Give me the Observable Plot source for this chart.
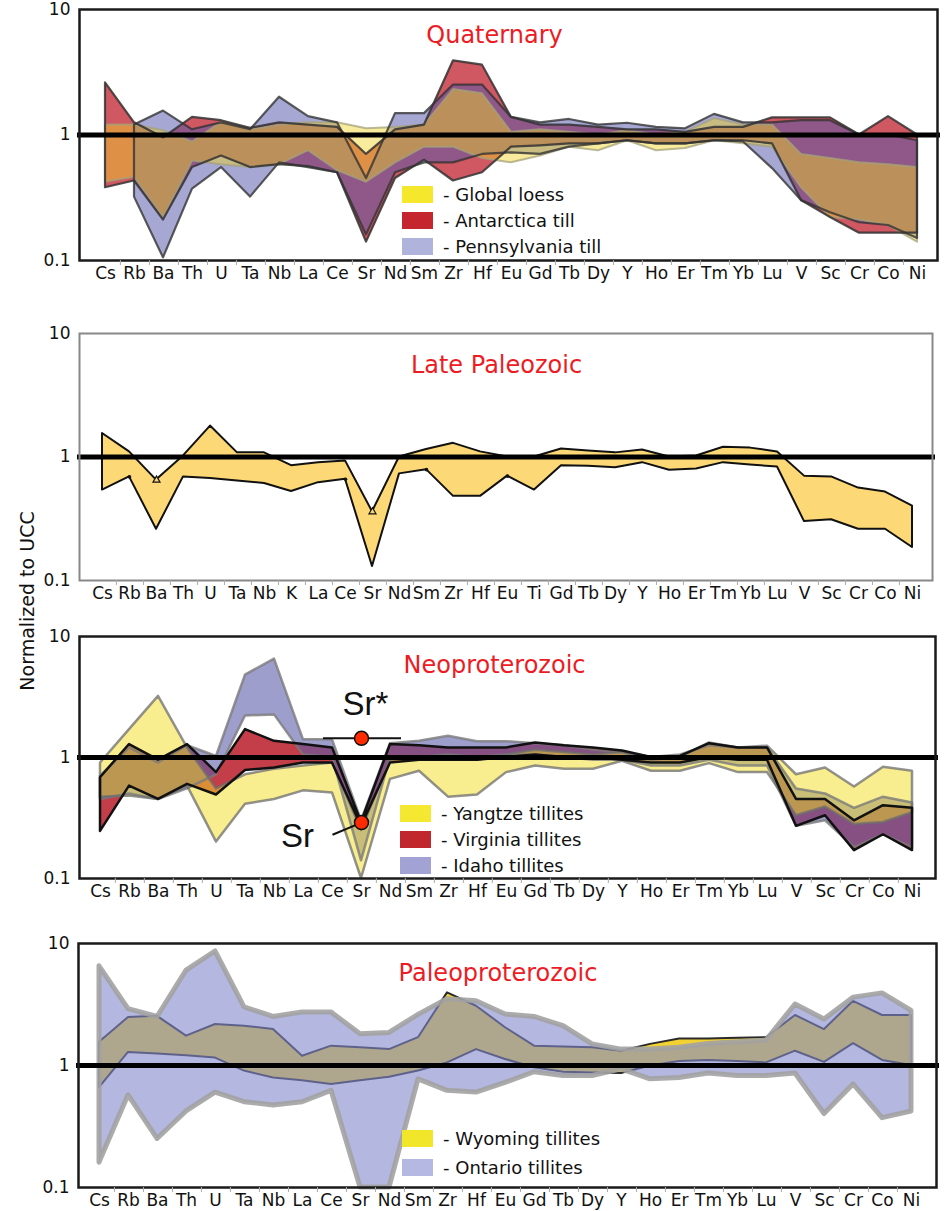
<!DOCTYPE html>
<html>
<head>
<meta charset="utf-8">
<script src="https://cdn.jsdelivr.net/npm/d3@7"></script>
<script src="https://cdn.jsdelivr.net/npm/@observablehq/plot@0.6"></script>
<style>
  body { margin: 0; background: #fff; }
  #page { position: relative; width: 946px; height: 1211px; overflow: hidden; font-family: "DejaVu Sans", sans-serif; color: #111; }
  #page svg { position: absolute; left: 0; }
  .legend { position: absolute; }
  .legend .row { position: absolute; left: 0; display: flex; align-items: center; height: 17px; }
  .legend .sw { width: 31px; height: 17px; flex: none; }
  .legend .tx { margin-left: 10px; font-size: 18px; white-space: nowrap; line-height: 17px; }
  .ylabel { position: absolute; left: 27px; top: 601px; transform: translate(-50%, -50%) rotate(-90deg); font-size: 19px; white-space: nowrap; }
</style>
</head>
<body>
<div id="page"><div class="ylabel">Normalized to UCC</div></div>
<script>
// Element order on the spider diagrams
const elements = ["Cs","Rb","Ba","Th","U","Ta","Nb","La","Ce","Sr","Nd","Sm","Zr","Hf","Eu","Gd","Tb","Dy","Y","Ho","Er","Tm","Yb","Lu","V","Sc","Cr","Co","Ni"];
const elementsLatePaleozoic = ["Cs","Rb","Ba","Th","U","Ta","Nb","K","La","Ce","Sr","Nd","Sm","Zr","Hf","Eu","Ti","Gd","Tb","Dy","Y","Ho","Er","Tm","Yb","Lu","V","Sc","Cr","Co","Ni"];

const yTicks = [0.1, 1, 10];

// Quaternary ranges (normalized to UCC)
const loessMax = [1.2, 1.2, 1.08, 0.88, 1.26, 1.1, 1.2, 1.25, 1.25, 1.12, 1.15, 1.2, 2.3, 2.13, 1.05, 1.1, 1.05, 1.0, 1.08, 1.0, 1.05, 1.35, 1.2, 1.2, 0.7, 0.65, 0.6, 0.58, 0.55];
const loessMin = [0.42, 0.46, 0.22, 0.62, 0.58, 0.55, 0.58, 0.75, 0.52, 0.42, 0.6, 0.8, 0.8, 0.65, 0.6, 0.68, 0.8, 0.75, 0.9, 0.75, 0.78, 0.9, 0.85, 0.8, 0.38, 0.22, 0.21, 0.19, 0.14];
const antarcticaMax = [2.6, 1.25, 0.95, 1.38, 1.3, 1.13, 1.25, 1.2, 1.15, 0.7, 1.1, 1.2, 3.9, 3.6, 1.38, 1.2, 1.2, 1.15, 1.1, 1.1, 1.05, 1.15, 1.15, 1.37, 1.37, 1.37, 1.0, 1.4, 1.0];
const antarcticaMin = [0.38, 0.43, 0.21, 0.55, 0.68, 0.55, 0.58, 0.56, 0.5, 0.14, 0.45, 0.63, 0.43, 0.5, 0.8, 0.82, 0.85, 0.85, 0.9, 0.85, 0.85, 0.9, 0.9, 0.85, 0.3, 0.22, 0.165, 0.165, 0.165];
const pennsylvaniaMax = [null, 1.2, 1.55, 1.1, 1.25, 1.1, 2.0, 1.4, 1.25, 0.45, 1.48, 1.48, 2.5, 2.5, 1.38, 1.25, 1.33, 1.2, 1.24, 1.15, 1.12, 1.46, 1.25, 1.25, 1.3, 1.3, 1.0, 1.0, 0.9];
const pennsylvaniaMin = [null, 0.32, 0.105, 0.37, 0.55, 0.32, 0.6, 0.55, 0.5, 0.16, 0.5, 0.6, 0.6, 0.7, 0.72, 0.7, 0.8, 0.85, 0.9, 0.85, 0.85, 0.9, 0.88, 0.54, 0.3, 0.24, 0.2, 0.19, 0.15];

// Late Paleozoic range
const latePaleozoicMax = [1.55, 1.1, 0.65, 1.02, 1.78, 1.08, 1.08, 0.85, 0.9, 0.93, 0.36, 1.0, 1.15, 1.29, 1.1, 1.0, 1.0, 1.16, 1.12, 1.08, 1.14, 1.0, 1.02, 1.2, 1.18, 1.1, 0.7, 0.69, 0.56, 0.52, 0.4];
const latePaleozoicMin = [0.54, 0.69, 0.26, 0.69, 0.67, 0.64, 0.61, 0.525, 0.62, 0.66, 0.13, 0.73, 0.79, 0.48, 0.48, 0.7, 0.54, 0.85, 0.84, 0.82, 0.9, 0.78, 0.8, 0.9, 0.86, 0.83, 0.3, 0.31, 0.26, 0.26, 0.185];
const latePaleozoicTriangles = ["Ba", "Sr"];          // markers on the upper edge
const latePaleozoicDots = ["Rb", "Ce", "Sm", "Eu"];   // markers on the lower edge

// Neoproterozoic ranges
const yangtzeMax = [0.9, 1.7, 3.2, 1.2, 0.55, 0.72, 0.8, 0.85, 0.9, 0.25, 0.95, 1.0, 0.95, 0.95, 1.05, 1.15, 1.1, 1.05, 1.1, 0.95, 1.0, 1.32, 1.2, 1.24, 0.72, 0.82, 0.57, 0.83, 0.77];
const yangtzeMin = [0.47, 0.48, 0.45, 0.58, 0.2, 0.41, 0.45, 0.53, 0.51, 0.1, 0.66, 0.77, 0.47, 0.49, 0.75, 0.85, 0.8, 0.8, 0.93, 0.77, 0.77, 0.89, 0.75, 0.75, 0.33, 0.39, 0.28, 0.29, 0.35];
const virginiaMax = [0.68, 1.28, 0.95, 1.28, 0.75, 1.7, 1.36, 1.28, 1.2, 0.29, 1.28, 1.25, 1.2, 1.2, 1.2, 1.32, 1.25, 1.2, 1.13, 1.0, 1.02, 1.3, 1.2, 1.2, 0.45, 0.45, 0.3, 0.4, 0.38];
const virginiaMin = [0.245, 0.58, 0.45, 0.6, 0.49, 0.78, 0.82, 0.9, 0.9, 0.27, 0.9, 0.95, 0.95, 0.95, 1.0, 1.05, 1.0, 1.0, 0.95, 0.9, 0.9, 1.0, 0.95, 0.95, 0.27, 0.33, 0.17, 0.23, 0.17];
const idahoMax = [0.7, 1.2, 0.9, 1.25, 1.02, 4.8, 6.5, 1.4, 1.4, 0.3, 1.3, 1.36, 1.5, 1.35, 1.35, 1.3, 1.25, 1.15, 1.1, 1.0, 1.05, 1.25, 1.2, 1.2, 0.55, 0.5, 0.38, 0.47, 0.42];
const idahoMin = [0.45, 0.5, 0.45, 0.55, 0.72, 2.2, 2.25, 1.05, 1.0, 0.14, 1.0, 1.0, 1.05, 1.0, 1.05, 1.05, 1.0, 0.95, 0.95, 0.85, 0.85, 0.95, 0.85, 0.85, 0.27, 0.3, 0.18, 0.23, 0.18];
const srStar = 1.44;   // interpolated Sr* between Ce and Nd

// Paleoproterozoic ranges
const wyomingMax = [1.55, 2.47, 2.53, 1.74, 2.17, 2.1, 1.97, 1.19, 1.44, 1.4, 1.35, 1.69, 3.94, 3.06, 2.04, 1.44, 1.42, 1.4, 1.31, 1.49, 1.65, 1.65, 1.67, 1.69, 2.57, 1.97, 3.36, 2.57, 2.57];
const wyomingMin = [0.66, 1.28, 1.24, 1.2, 1.15, 0.9, 0.79, 0.75, 0.7, 0.75, 0.8, 0.9, 1.05, 1.35, 1.12, 0.96, 0.88, 0.87, 0.86, 0.99, 1.08, 1.1, 1.08, 1.05, 1.31, 1.06, 1.51, 1.1, 1.0];
const ontarioMax = [6.5, 2.9, 2.5, 6.0, 8.6, 3.0, 2.5, 2.72, 2.72, 1.8, 1.85, 2.6, 3.5, 3.36, 2.62, 2.5, 2.1, 1.49, 1.35, 1.35, 1.4, 1.5, 1.55, 1.6, 3.16, 2.38, 3.6, 3.9, 2.8];
const ontarioMin = [0.16, 0.57, 0.25, 0.42, 0.6, 0.5, 0.47, 0.5, 0.62, 0.1, 0.1, 0.77, 0.62, 0.6, 0.72, 0.88, 0.82, 0.82, 0.93, 0.77, 0.79, 0.86, 0.82, 0.82, 0.86, 0.4, 0.7, 0.37, 0.42];

const RED_TITLE = "#ed1c24";
const page = document.getElementById("page");

const band = (els, lo, hi) => els.map((el, i) => ({el, lo: lo[i], hi: hi[i]}));
const fillBand = (data, fill, opacity) =>
  Plot.areaY(data, {x: "el", y1: "lo", y2: "hi", fill, fillOpacity: opacity});
const edgeBand = (data, stroke, width, opacity) =>
  Plot.areaY(data, {x: "el", y1: "lo", y2: "hi", fill: "none", stroke, strokeWidth: width, strokeOpacity: opacity, strokeLinejoin: "round"});

function panel({top, height, mt, mb, ml, mr, els, xr, frameColor, frameWidth, title, titleDx, titleDy, marks}) {
  const half = (xr[1] - xr[0]) / (els.length - 1) / 2;
  const chart = Plot.plot({
    width: 946,
    height,
    marginTop: mt, marginBottom: mb, marginLeft: ml, marginRight: mr,
    x: {type: "point", domain: els, range: xr, padding: 0},
    y: {type: "log", domain: [0.1, 10]},
    style: {fontFamily: "DejaVu Sans, sans-serif", background: "transparent", color: "#111", overflow: "visible"},
    marks: [
      ...marks,
      Plot.ruleY([1], {stroke: "#000", strokeWidth: 5, insetLeft: -2, insetRight: -3}),
      Plot.frame({stroke: frameColor, strokeWidth: frameWidth}),
      Plot.axisY({ticks: yTicks, tickFormat: d => `${d}`, tickSize: 0, tickPadding: 9, fontSize: 17, label: null}),
      Plot.axisX({tickSize: 0, tickPadding: 6, fontSize: 17, label: null}),
      Plot.axisX({ticks: els.slice(0, -1), tickFormat: () => "", tickSize: 5, dx: half, stroke: "#aaa", label: null}),
      Plot.text([title], {frameAnchor: "top", dx: titleDx, dy: titleDy, fill: RED_TITLE, fontSize: 24})
    ]
  });
  chart.style.top = top + "px";
  page.append(chart);
}

function legend(left, tops, items) {
  const box = document.createElement("div");
  box.className = "legend";
  box.style.left = left + "px";
  box.style.top = "0px";
  items.forEach(([label, color], i) => {
    const row = document.createElement("div");
    row.className = "row";
    row.style.top = tops[i] + "px";
    const sw = document.createElement("span");
    sw.className = "sw";
    sw.style.background = color;
    const tx = document.createElement("span");
    tx.className = "tx";
    tx.textContent = label;
    row.append(sw, tx);
    box.append(row);
  });
  page.append(box);
}

// --- Quaternary ---
const loess = band(elements, loessMin, loessMax);
const antarctica = band(elements, antarcticaMin, antarcticaMax);
const pennsylvania = band(elements, pennsylvaniaMin, pennsylvaniaMax);
panel({
  top: 0, height: 285, mt: 9, mb: 25, ml: 79, mr: 9,
  els: elements, xr: [93, 928],
  frameColor: "#1a1a1a", frameWidth: 2.5,
  title: "Quaternary", titleDx: -14, titleDy: 16,
  marks: [
    fillBand(antarctica, "#c0202e", 0.75),
    fillBand(pennsylvania, "#5558aa", 0.52),
    fillBand(loess, "#f0d424", 0.46),
    edgeBand(loess, "#a4a27a", 2, 0.75),
    edgeBand(antarctica, "#333", 2.2, 0.85),
    edgeBand(pennsylvania, "#333", 2.2, 0.8)
  ]
});
legend(402, [186, 212, 238], [
  ["- Global loess", "#f5e82c"],
  ["- Antarctica till", "#c4252f"],
  ["- Pennsylvania till", "#b0b3db"]
]);

// --- Late Paleozoic ---
const latePaleozoic = band(elementsLatePaleozoic, latePaleozoicMin, latePaleozoicMax);
panel({
  top: 320, height: 285, mt: 13, mb: 25, ml: 79, mr: 14,
  els: elementsLatePaleozoic, xr: [88, 925],
  frameColor: "#888", frameWidth: 2,
  title: "Late Paleozoic", titleDx: -9.5, titleDy: 22,
  marks: [
    fillBand(latePaleozoic, "#fdd877", 1),
    edgeBand(latePaleozoic, "#111", 2, 1),
    Plot.dot(latePaleozoic.filter(d => latePaleozoicTriangles.includes(d.el)), {x: "el", y: "hi", symbol: "triangle", r: 2.6, fill: "#fdd877", stroke: "#111", strokeWidth: 1.2}),
    Plot.dot(latePaleozoic.filter(d => latePaleozoicDots.includes(d.el)), {x: "el", y: "lo", r: 1.8, fill: "#111"})
  ]
});

// --- Neoproterozoic ---
const yangtze = band(elements, yangtzeMin, yangtzeMax);
const virginia = band(elements, virginiaMin, virginiaMax);
const idaho = band(elements, idahoMin, idahoMax);
const srPoint = virginia.find(d => d.el === "Sr");
panel({
  top: 615, height: 290, mt: 21, mb: 27, ml: 79, mr: 11,
  els: elements, xr: [90, 922],
  frameColor: "#1a1a1a", frameWidth: 2.5,
  title: "Neoproterozoic", titleDx: -13, titleDy: 19,
  marks: [
    fillBand(virginia, "#b81c28", 0.85),
    fillBand(idaho, "#5e5eab", 0.6),
    fillBand(yangtze, "#f2de22", 0.5),
    edgeBand(idaho, "#7a7a7a", 2.5, 0.8),
    edgeBand(yangtze, "#6e6e6e", 2.5, 0.75),
    edgeBand(virginia, "#111", 2.5, 1),
    Plot.ruleY([{v: srStar, from: "Ce", to: "Nd"}], {y: "v", x1: "from", x2: "to", stroke: "#111", strokeWidth: 2, insetLeft: -9, insetRight: -11}),
    Plot.link([{a: "Ce", b: "Sr"}], {x1: "a", x2: "b", y1: () => 0.23, y2: () => srPoint.hi, stroke: "#111", strokeWidth: 2}),
    Plot.dot([{el: "Sr", v: srStar}, {el: "Sr", v: srPoint.hi}], {x: "el", y: "v", r: 7, fill: "#ff2a00", stroke: "#111", strokeWidth: 1.5}),
    Plot.text([{el: "Sr", v: srStar}], {x: "el", y: "v", text: () => "Sr*", dx: 4, dy: -34, fontSize: 33, fontFamily: "Liberation Sans, Arial, sans-serif", fill: "#111"}),
    Plot.text([srPoint], {x: "el", y: "hi", text: () => "Sr", dx: -64, dy: 14, fontSize: 33, fontFamily: "Liberation Sans, Arial, sans-serif", fill: "#111"})
  ]
});
legend(400, [805, 831, 857], [
  ["- Yangtze tillites", "#f4e830"],
  ["- Virginia tillites", "#c0282e"],
  ["- Idaho tillites", "#a2a2d4"]
]);

// --- Paleoproterozoic ---
const wyoming = band(elements, wyomingMin, wyomingMax);
const ontario = band(elements, ontarioMin, ontarioMax);
panel({
  top: 930, height: 281, mt: 13, mb: 24, ml: 78, mr: 10,
  els: elements, xr: [86, 924],
  frameColor: "#1a1a1a", frameWidth: 2.5,
  title: "Paleoproterozoic", titleDx: -9.5, titleDy: 20,
  marks: [
    fillBand(wyoming, "#f2d232", 1),
    edgeBand(wyoming, "#2a2a2a", 2, 1),
    fillBand(ontario, "#8289cb", 0.6),
    edgeBand(ontario, "#a2a2a2", 5, 0.9)
  ]
});
legend(402, [1130, 1159], [
  ["- Wyoming tillites", "#f2e62a"],
  ["- Ontario tillites", "#b4b8e2"]
]);
</script>
</body>
</html>
